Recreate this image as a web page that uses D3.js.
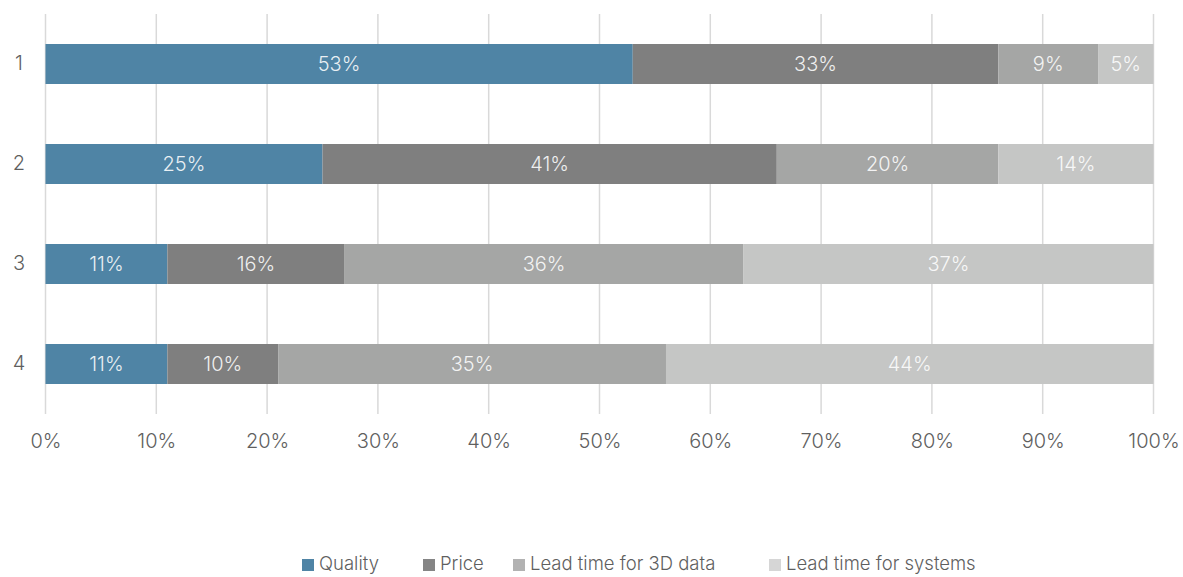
<!DOCTYPE html>
<html>
<head>
<meta charset="utf-8">
<script src="https://cdn.jsdelivr.net/npm/d3@7"></script>
<style>
  html, body { margin: 0; padding: 0; background: #fff; }
  svg { display: block; font-family: Inter, "Open Sans", sans-serif; font-weight: 300; }
</style>
</head>
<body>
<svg id="chart" width="1183" height="577"></svg>
<script>
// Survey rows and the share of each answer
const rows = ["1", "2", "3", "4"];
const seriesNames = ["Quality", "Price", "Lead time for 3D data", "Lead time for systems"];
const quality = [53, 25, 11, 11];
const price = [33, 41, 16, 10];
const leadTime3D = [9, 20, 36, 35];
const leadTimeSystems = [5, 14, 37, 44];
const tickValues = [0, 10, 20, 30, 40, 50, 60, 70, 80, 90, 100];

const barColors = ["#4f84a5", "#7f7f7f", "#a5a6a5", "#c5c6c5"];
const swatchColors = ["#4f84a5", "#858585", "#b2b2b2", "#d6d6d6"];

const seriesValues = [quality, price, leadTime3D, leadTimeSystems];
const table = rows.map((r, i) => {
  const o = { row: r };
  seriesNames.forEach((s, j) => { o[s] = seriesValues[j][i]; });
  return o;
});

const svg = d3.select("#chart");
const plotLeft = 45.5, plotRight = 1153.5, plotTop = 14, plotBottom = 414;

const x = d3.scaleLinear().domain([0, 100]).range([plotLeft, plotRight]);
const y = d3.scaleBand().domain(rows).range([plotTop, plotBottom]).paddingInner(0.6).paddingOuter(0.3);

// vertical gridlines
svg.append("g")
  .selectAll("line")
  .data(tickValues)
  .join("line")
  .attr("x1", d => x(d)).attr("x2", d => x(d))
  .attr("y1", plotTop).attr("y2", plotBottom)
  .attr("stroke", "#d9d9d9")
  .attr("stroke-width", 1.5);

// x axis labels
const xAxis = d3.axisBottom(x).tickValues(tickValues).tickFormat(d => d + "%").tickSize(0).tickPadding(0);
const gx = svg.append("g").attr("transform", `translate(0, ${plotBottom + 27})`).call(xAxis);
gx.attr("font-family", null).attr("font-size", null);
gx.select(".domain").remove();
gx.selectAll("text")
  .attr("font-size", 20)
  .attr("fill", "#5f5f5f")
  .attr("dy", "0.35em");

// row labels
const yAxis = d3.axisLeft(y).tickSize(0).tickPadding(0);
const gy = svg.append("g").attr("transform", `translate(19, 0)`).call(yAxis);
gy.attr("font-family", null).attr("font-size", null);
gy.select(".domain").remove();
gy.selectAll("text")
  .attr("font-size", 20)
  .attr("fill", "#5f5f5f")
  .attr("text-anchor", "middle");

// stacked bars
const stacked = d3.stack().keys(seriesNames)(table);
const layers = svg.append("g")
  .selectAll("g")
  .data(stacked)
  .join("g")
  .attr("fill", (d, i) => barColors[i]);

layers.selectAll("rect")
  .data(d => d)
  .join("rect")
  .attr("x", d => x(d[0]))
  .attr("width", d => x(d[1]) - x(d[0]))
  .attr("y", d => y(d.data.row))
  .attr("height", y.bandwidth());

// value labels inside segments
layers.selectAll("text")
  .data(d => d.map(v => ({ v, key: d.key })))
  .join("text")
  .attr("x", d => (x(d.v[0]) + x(d.v[1])) / 2)
  .attr("y", d => y(d.v.data.row) + y.bandwidth() / 2)
  .attr("dy", "0.35em")
  .attr("text-anchor", "middle")
  .attr("font-size", 20)
  .attr("fill", "#ffffff")
  .attr("fill-opacity", 0.88)
  .text(d => d.v.data[d.key] + "%");

// legend
const legendX = [302, 423, 513, 769];
const legendY = 564;
const legend = svg.append("g")
  .selectAll("g")
  .data(seriesNames)
  .join("g")
  .attr("transform", (d, i) => `translate(${legendX[i]}, ${legendY})`);
legend.append("rect")
  .attr("x", 0).attr("y", -5)
  .attr("width", 12).attr("height", 12)
  .attr("fill", (d, i) => swatchColors[i]);
legend.append("text")
  .attr("x", 17)
  .attr("dy", "0.35em")
  .attr("font-size", 18.5)
  .attr("fill", "#5f5f5f")
  .text(d => d);
</script>
</body>
</html>
